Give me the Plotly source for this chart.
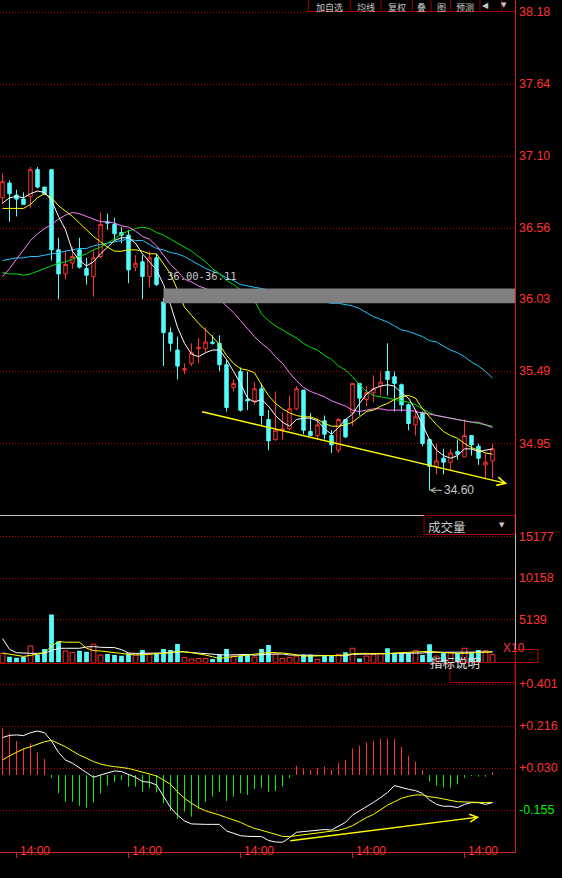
import plotly.graph_objects as go

# ------------------------------------------------------------------ data
idx = list(range(71))

opens = [36.79, 36.90, 36.81, 36.78, 36.80, 37.00, 36.87, 37.00, 36.40, 36.22,
         36.30, 36.40, 36.26, 36.20, 36.35, 36.61, 36.59, 36.53, 36.51, 36.27,
         36.31, 36.20, 36.34, 36.01, 35.78, 35.65, 35.50, 35.55, 35.66, 35.66,
         35.71, 35.70, 35.54, 35.37, 35.49, 35.28, 35.27, 35.36, 35.13, 34.98,
         35.05, 35.06, 35.21, 35.35, 35.04, 35.01, 35.12, 35.01, 34.90, 35.13,
         35.18, 35.40, 35.28, 35.33, 35.38, 35.49, 35.45, 35.39, 35.24, 35.09,
         35.18, 34.98, 34.78, 34.84, 34.81, 34.89, 34.85, 35.01, 34.93, 34.79,
         34.82]
highs = [36.97, 36.92, 36.85, 36.83, 37.02, 37.02, 36.87, 37.00, 36.49, 36.39,
         36.42, 36.49, 36.34, 36.40, 36.68, 36.67, 36.64, 36.57, 36.55, 36.36,
         36.36, 36.39, 36.37, 36.04, 35.82, 35.75, 35.55, 35.70, 35.74, 35.82,
         35.76, 35.76, 35.58, 35.43, 35.52, 35.49, 35.41, 35.40, 35.20, 35.34,
         35.18, 35.31, 35.38, 35.35, 35.18, 35.14, 35.16, 35.05, 35.14, 35.13,
         35.40, 35.40, 35.38, 35.46, 35.49, 35.70, 35.49, 35.40, 35.25, 35.20,
         35.19, 34.99, 34.95, 34.91, 34.91, 34.98, 35.13, 35.01, 34.95, 34.88,
         34.95]
lows = [36.74, 36.61, 36.65, 36.74, 36.71, 36.86, 36.81, 36.32, 36.03, 36.18,
        36.26, 36.26, 36.14, 36.05, 36.34, 36.55, 36.47, 36.45, 36.15, 36.24,
        36.03, 36.12, 36.13, 35.53, 35.64, 35.43, 35.47, 35.53, 35.55, 35.63,
        35.69, 35.49, 35.19, 35.34, 35.19, 35.20, 35.24, 35.09, 34.90, 34.97,
        34.98, 35.05, 35.20, 35.02, 35.01, 34.98, 34.98, 34.88, 34.88, 34.99,
        35.08, 35.16, 35.23, 35.26, 35.31, 35.31, 35.19, 35.19, 35.05, 35.01,
        34.93, 34.60, 34.72, 34.72, 34.75, 34.83, 34.85, 34.86, 34.79, 34.69,
        34.69]
closes = [36.91, 36.82, 36.78, 36.74, 37.00, 36.87, 36.82, 36.40, 36.22, 36.29,
          36.35, 36.27, 36.21, 36.34, 36.59, 36.60, 36.52, 36.51, 36.25, 36.30,
          36.20, 36.34, 36.14, 35.78, 35.70, 35.53, 35.51, 35.63, 35.67, 35.71,
          35.70, 35.54, 35.22, 35.40, 35.20, 35.27, 35.36, 35.16, 34.97, 35.05,
          35.06, 35.21, 35.36, 35.05, 35.01, 35.09, 35.02, 34.94, 35.13, 35.00,
          35.40, 35.29, 35.33, 35.36, 35.41, 35.43, 35.40, 35.24, 35.10, 35.15,
          34.95, 34.78, 34.82, 34.81, 34.88, 34.87, 35.01, 34.94, 34.84, 34.81,
          34.91]

ma5 = [36.75, 36.79, 36.80, 36.79, 36.82, 36.84, 36.83, 36.77, 36.65, 36.55,
       36.39, 36.32, 36.28, 36.31, 36.37, 36.42, 36.47, 36.49, 36.49, 36.45,
       36.37, 36.31, 36.25, 36.14, 35.99, 35.82, 35.70, 35.62, 35.60, 35.63,
       35.65, 35.65, 35.58, 35.49, 35.40, 35.29, 35.26, 35.28, 35.23, 35.16,
       35.11, 35.08, 35.13, 35.14, 35.14, 35.12, 35.06, 35.02, 35.07, 35.13,
       35.17, 35.25, 35.32, 35.36, 35.38, 35.39, 35.38, 35.33, 35.29, 35.20,
       35.09, 34.98, 34.90, 34.86, 34.84, 34.86, 34.91, 34.91, 34.89, 34.90,
       34.91]
ma10 = [36.71, 36.71, 36.71, 36.71, 36.74, 36.79, 36.82, 36.79, 36.73, 36.69,
        36.65, 36.60, 36.55, 36.50, 36.46, 36.42, 36.39, 36.39, 36.40, 36.40,
        36.39, 36.37, 36.37, 36.29, 36.22, 36.10, 35.97, 35.91, 35.85, 35.80,
        35.75, 35.69, 35.61, 35.55, 35.51, 35.50, 35.48, 35.39, 35.31, 35.25,
        35.21, 35.18, 35.16, 35.15, 35.15, 35.13, 35.10, 35.08, 35.08, 35.09,
        35.11, 35.15, 35.19, 35.20, 35.23, 35.25, 35.28, 35.30, 35.31, 35.29,
        35.21, 35.15, 35.09, 35.04, 35.01, 34.99, 34.95, 34.92, 34.90, 34.88,
        34.87]
ma20 = [36.20, 36.26, 36.33, 36.40, 36.47, 36.52, 36.56, 36.59, 36.63, 36.66,
        36.68, 36.67, 36.65, 36.63, 36.61, 36.61, 36.60, 36.58, 36.57, 36.54,
        36.50, 36.48, 36.43, 36.36, 36.29, 36.24, 36.18, 36.16, 36.13, 36.11,
        36.09, 36.03, 35.98, 35.93, 35.87, 35.81, 35.75, 35.70, 35.66, 35.60,
        35.55, 35.48, 35.42, 35.37, 35.34, 35.32, 35.30, 35.27, 35.25, 35.23,
        35.20, 35.19, 35.20, 35.21, 35.21, 35.20, 35.20, 35.20, 35.20, 35.19,
        35.18, 35.17, 35.16, 35.15, 35.14, 35.13, 35.12, 35.11, 35.11, 35.09,
        35.07]
ma30 = [36.23, 36.22, 36.22, 36.21, 36.22, 36.24, 36.26, 36.28, 36.30, 36.31,
        36.33, 36.35, 36.37, 36.40, 36.42, 36.45, 36.48, 36.52, 36.54, 36.56,
        36.57, 36.56, 36.53, 36.51, 36.48, 36.45, 36.42, 36.39, 36.35, 36.31,
        36.26, 36.22, 36.17, 36.14, 36.10, 36.06, 36.02, 35.92, 35.87, 35.83,
        35.80, 35.77, 35.74, 35.70, 35.67, 35.65, 35.61, 35.58, 35.53, 35.50,
        35.45, 35.39, 35.34, 35.31, 35.30, 35.29, 35.28, 35.27, 35.26, 35.24,
        35.21, 35.18, 35.16, 35.15, 35.14, 35.13, 35.12, 35.11, 35.10, 35.09,
        35.08]
ma60 = [36.32, 36.33, 36.34, 36.34, 36.35, 36.35, 36.36, 36.37, 36.38, 36.39,
        36.40, 36.41, 36.41, 36.43, 36.44, 36.45, 36.46, 36.47, 36.48, 36.47,
        36.47, 36.44, 36.41, 36.40, 36.38, 36.37, 36.35, 36.32, 36.29, 36.26,
        36.24, 36.22, 36.19, 36.17, 36.14, 36.13, 36.12, 36.11, 36.10, 36.08,
        36.07, 36.06, 36.05, 36.04, 36.03, 36.02, 36.01, 36.00, 36.00, 35.99,
        35.98, 35.96, 35.93, 35.90, 35.88, 35.86, 35.83, 35.80, 35.79, 35.77,
        35.75, 35.72, 35.71, 35.68, 35.65, 35.63, 35.60, 35.56, 35.53, 35.49,
        35.44]

volume = [1100, 694, 571, 694, 2000, 979, 1632, 5794, 2530, 1387,
          1224, 1428, 1306, 2203, 898, 1020, 898, 816, 1102, 1020,
          1510, 1020, 1102, 1632, 1510, 2244, 612, 408, 490, 490,
          408, 979, 1632, 775, 816, 979, 650, 1632, 2122, 979,
          490, 612, 775, 979, 979, 367, 775, 775, 979, 1224,
          1714, 490, 775, 979, 1102, 1714, 1102, 1102, 1102, 1428,
          898, 2203, 775, 1183, 1183, 1102, 1714, 1183, 1510, 1428,
          979]
vol_ma5 = [1142, 979, 816, 734, 857, 1020, 1183, 1958, 2530, 2448,
           2448, 2448, 1714, 1428, 1387, 1306, 1224, 1102, 979, 898,
           938, 979, 1061, 1102, 1183, 1306, 1306, 1183, 1061, 898,
           694, 490, 612, 694, 816, 898, 979, 1102, 1224, 1224,
           1142, 1061, 898, 775, 775, 775, 775, 816, 857, 898,
           1061, 1102, 1102, 1102, 1020, 1061, 1142, 1183, 1224, 1224,
           1224, 1346, 1265, 1183, 1142, 1102, 1102, 1142, 1224, 1306,
           1306]
vol_ma10 = [2897, 1591, 1183, 1102, 1102, 1102, 1142, 1428, 1714, 1714,
            1714, 1714, 1877, 1918, 1836, 1836, 1795, 1550, 1142, 1102,
            1102, 1102, 1102, 1142, 1224, 1306, 1265, 1183, 1102, 1020,
            979, 938, 898, 898, 898, 979, 870, 979, 1020, 1020,
            1020, 898, 898, 816, 816, 816, 816, 816, 816, 816,
            979, 979, 1020, 1061, 1061, 1061, 1102, 1102, 1102, 1102,
            1142, 1224, 1224, 1224, 1183, 1183, 1224, 1224, 1224, 1265,
            1265]

dif = [0.165, 0.175, 0.177, 0.174, 0.187, 0.194, 0.187, 0.150, 0.100, 0.066,
       0.052, 0.032, 0.012, -0.010, 0.000, 0.010, 0.018, 0.015, 0.003, -0.010,
       -0.029, -0.032, -0.044, -0.096, -0.144, -0.177, -0.203, -0.216, -0.218, -0.218,
       -0.218, -0.218, -0.247, -0.258, -0.268, -0.271, -0.271, -0.272, -0.289, -0.296,
       -0.297, -0.277, -0.253, -0.250, -0.250, -0.246, -0.241, -0.243, -0.227, -0.209,
       -0.177, -0.159, -0.140, -0.121, -0.100, -0.077, -0.047, -0.056, -0.063, -0.069,
       -0.081, -0.110, -0.130, -0.138, -0.138, -0.144, -0.130, -0.122, -0.122, -0.130,
       -0.122]
dea = [0.066, 0.085, 0.100, 0.115, 0.125, 0.135, 0.147, 0.153, 0.140, 0.125,
       0.106, 0.088, 0.074, 0.059, 0.049, 0.041, 0.037, 0.034, 0.029, 0.021,
       0.012, 0.003, -0.004, -0.022, -0.041, -0.074, -0.103, -0.125, -0.144, -0.158,
       -0.166, -0.177, -0.188, -0.199, -0.209, -0.224, -0.236, -0.244, -0.253, -0.262,
       -0.271, -0.272, -0.268, -0.264, -0.259, -0.256, -0.253, -0.250, -0.244, -0.236,
       -0.224, -0.206, -0.188, -0.174, -0.153, -0.133, -0.118, -0.103, -0.094, -0.088,
       -0.088, -0.096, -0.100, -0.106, -0.112, -0.118, -0.119, -0.121, -0.121, -0.122,
       -0.121]
macd_hist = [0.206, 0.184, 0.150, 0.118, 0.140, 0.100, 0.071, -0.012, -0.081, -0.118,
             -0.118, -0.136, -0.144, -0.121, -0.081, -0.047, -0.030, -0.022, -0.052, -0.052,
             -0.074, -0.059, -0.077, -0.125, -0.158, -0.194, -0.162, -0.184, -0.150, -0.118,
             -0.096, -0.074, -0.115, -0.096, -0.081, -0.088, -0.062, -0.056, -0.074, -0.071,
             -0.052, -0.012, 0.041, 0.029, 0.022, 0.032, 0.037, 0.022, 0.054, 0.066,
             0.118, 0.130, 0.143, 0.150, 0.159, 0.159, 0.159, 0.125, 0.085, 0.059,
             0.022, -0.029, -0.047, -0.056, -0.056, -0.041, -0.012, -0.004, -0.007, -0.007,
             0.012]

price_ticks = [38.18, 37.64, 37.10, 36.56, 36.03, 35.49, 34.95]
vol_ticks = [15177, 10158, 5139]
macd_ticks = [0.401, 0.216, 0.030, -0.155]
time_tick_idx = [2, 18, 34, 50, 66]
time_tick_labels = ["14:00", "14:00", "14:00", "14:00", "14:00"]

zone_low, zone_high, zone_start = 36.00, 36.11, 23
low_mark_idx, low_mark_price = 61, 34.60
trend_price_start = (28.3, 35.19)
trend_price_end = (72.1, 34.65)
trend_macd_start = (40.9, -0.2915)
trend_macd_end = (68.1, -0.1855)

toolbar_labels = ["加自选", "均线", "复权", "叠", "图", "预测"]

# ------------------------------------------------------------------ style / layout
W, H = 562, 878
RED = "#ff3232"
CYAN = "#54fcfc"
GREEN = "#00f000"
GRID = "#b00000"
BORDER = "#a00000"
GREY = "#c8c8c8"
NUM_FONT = "Liberation Sans, Arial, sans-serif"
CJK_FONT = "Noto Sans CJK SC, sans-serif"


def fx(px):
    return px / W


def fy(py):
    return 1 - py / H


X_RANGE = [-2.5 / 7, 512.5 / 7]
X_DOM = [0, 515 / W]

fig = go.Figure()

# candles
fig.add_trace(go.Candlestick(
    x=idx, open=opens, high=highs, low=lows, close=closes,
    increasing=dict(line=dict(color=RED, width=1), fillcolor="rgba(0,0,0,0)"),
    decreasing=dict(line=dict(color=CYAN, width=1), fillcolor=CYAN),
    whiskerwidth=0, xaxis="x", yaxis="y", hoverinfo="skip", showlegend=False))

for vals, col in [(ma60, "#1ec8ff"), (ma30, "#00e000"), (ma20, "#ff80ff"),
                  (ma10, "#ffff00"), (ma5, "#ffffff")]:
    fig.add_trace(go.Scatter(x=idx, y=vals, mode="lines", line=dict(color=col, width=1),
                             xaxis="x", yaxis="y", hoverinfo="skip", showlegend=False))

# volume
up = [c >= o for o, c in zip(opens, closes)]
fig.add_trace(go.Bar(
    x=[i for i in idx if up[i]], y=[volume[i] for i in idx if up[i]], width=0.68,
    marker=dict(color="rgba(0,0,0,0)", line=dict(color=RED, width=1)),
    xaxis="x2", yaxis="y2", hoverinfo="skip", showlegend=False))
fig.add_trace(go.Bar(
    x=[i for i in idx if not up[i]], y=[volume[i] for i in idx if not up[i]], width=0.68,
    marker=dict(color=CYAN, line=dict(width=0)),
    xaxis="x2", yaxis="y2", hoverinfo="skip", showlegend=False))
fig.add_trace(go.Scatter(x=idx, y=vol_ma10, mode="lines", line=dict(color="#ffffff", width=1),
                         xaxis="x2", yaxis="y2", hoverinfo="skip", showlegend=False))
fig.add_trace(go.Scatter(x=idx, y=vol_ma5, mode="lines", line=dict(color="#ffff00", width=1),
                         xaxis="x2", yaxis="y2", hoverinfo="skip", showlegend=False))


# MACD histogram as thin sticks
def sticks(sign):
    xs, ys = [], []
    for i, v in zip(idx, macd_hist):
        if (v > 0) == sign:
            xs += [i, i, None]
            ys += [0, v, None]
    return xs, ys


for sign, col in [(True, RED), (False, GREEN)]:
    xs, ys = sticks(sign)
    fig.add_trace(go.Scatter(x=xs, y=ys, mode="lines", line=dict(color=col, width=1),
                             xaxis="x3", yaxis="y3", hoverinfo="skip", showlegend=False))
fig.add_trace(go.Scatter(x=idx, y=dif, mode="lines", line=dict(color="#ffffff", width=1),
                         xaxis="x3", yaxis="y3", hoverinfo="skip", showlegend=False))
fig.add_trace(go.Scatter(x=idx, y=dea, mode="lines", line=dict(color="#ffff00", width=1),
                         xaxis="x3", yaxis="y3", hoverinfo="skip", showlegend=False))

# ------------------------------------------------------------------ axes
P_TOP, P_BOT = 38.27, 38.27 - 515 * 0.007485
common_x = dict(range=X_RANGE, domain=X_DOM, showgrid=False, zeroline=False,
                showticklabels=False, fixedrange=True)
grid_y = dict(side="right", showgrid=True, gridcolor=GRID, griddash="1px,2px", gridwidth=1,
              zeroline=False, showticklabels=False, ticks="", showline=True, linewidth=1,
              fixedrange=True)

fig.update_layout(
    width=W, height=H, margin=dict(l=0, r=0, t=0, b=0), autosize=False,
    paper_bgcolor="black", plot_bgcolor="black", showlegend=False, barmode="overlay",
    xaxis=dict(**common_x, anchor="y", rangeslider=dict(visible=False), showline=True,
               linecolor="#c0c0c0", linewidth=1, ticks=""),
    xaxis2=dict(**common_x, anchor="y2", showline=True, linecolor="#c00000", linewidth=1, ticks=""),
    xaxis3=dict(**common_x, anchor="y3", showline=True, linecolor="#d02020", linewidth=1,
                ticks="outside", tickvals=time_tick_idx, ticklen=5, tickcolor="#d02020", tickwidth=1),
    yaxis=dict(**grid_y, domain=[fy(515), 1], range=[P_BOT, P_TOP], anchor="x",
               tickvals=price_ticks, linecolor="#d02020"),
    yaxis2=dict(**grid_y, domain=[fy(662.5), fy(515)], range=[0, 17789], anchor="x2",
                tickvals=vol_ticks, linecolor="#c0c0c0"),
    yaxis3=dict(**grid_y, domain=[fy(852), fy(662.5)], range=[-0.3401, 0.4969], anchor="x3",
                tickvals=macd_ticks, linecolor="#d02020"),
)

ann = []
shapes = []

# right-side axis labels
for v in price_ticks:
    ann.append(dict(x=fx(517), xref="paper", y=v, yref="y", text=f"{v:.2f}", xanchor="left",
                    showarrow=False, font=dict(color=RED, size=12.5, family=NUM_FONT)))
for v in vol_ticks:
    ann.append(dict(x=fx(517), xref="paper", y=v, yref="y2", text=str(v), xanchor="left",
                    showarrow=False, font=dict(color=RED, size=12.5, family=NUM_FONT)))
for v in macd_ticks:
    ann.append(dict(x=fx(517), xref="paper", y=v, yref="y3", text=f"{v:+.3f}", xanchor="left",
                    showarrow=False,
                    font=dict(color=RED if v > 0 else GREEN, size=12.5, family=NUM_FONT)))
# time labels
for t, lab in zip(time_tick_idx, time_tick_labels):
    ann.append(dict(x=t, xref="x3", y=fy(860), yref="paper", text=lab, xanchor="left",
                    xshift=1, showarrow=False, font=dict(color=RED, size=12, family=NUM_FONT)))

# price zone
shapes.append(dict(type="rect", xref="x", yref="y", x0=zone_start, x1=X_RANGE[1],
                   y0=zone_low, y1=zone_high, fillcolor="#808080", line=dict(width=0), layer="above"))
ann.append(dict(x=zone_start, xref="x", y=zone_high, yref="y", yshift=12.5, xshift=1,
                text=f"{zone_low:.2f}-{zone_high:.2f}", xanchor="left", yanchor="middle",
                showarrow=False, font=dict(color="#c8c8c8", size=10.5, family="DejaVu Sans Mono")))

# low marker
ann.append(dict(x=low_mark_idx, xref="x", y=low_mark_price, yref="y", text=f"{low_mark_price:.2f}",
                showarrow=True, ax=29, ay=0, arrowhead=5, arrowsize=1, arrowwidth=1,
                arrowcolor="#c0c0c0", standoff=0, font=dict(color="#c8c8c8", size=12, family=NUM_FONT)))

# trend arrows
ann.append(dict(x=trend_price_end[0], y=trend_price_end[1], xref="x", yref="y",
                ax=trend_price_start[0], ay=trend_price_start[1], axref="x", ayref="y",
                text="", showarrow=True, arrowhead=5, arrowsize=1.1, arrowwidth=1.5,
                arrowcolor="#ffff00", standoff=0))
ann.append(dict(x=trend_macd_end[0], y=trend_macd_end[1], xref="x3", yref="y3",
                ax=trend_macd_start[0], ay=trend_macd_start[1], axref="x3", ayref="y3",
                text="", showarrow=True, arrowhead=5, arrowsize=1.1, arrowwidth=1.4,
                arrowcolor="#ffff00", standoff=0))

# toolbar (top right)
shapes.append(dict(type="rect", xref="paper", yref="paper", x0=fx(308), x1=fx(515),
                   y0=fy(13), y1=fy(-2), fillcolor="black", line=dict(width=0), layer="above"))
shapes.append(dict(type="line", xref="paper", yref="paper", x0=fx(308), x1=fx(515),
                   y0=fy(11.5), y1=fy(11.5), line=dict(color=BORDER, width=1), layer="above"))
for sx in [308.3, 350.7, 381, 412.3, 431, 450.7, 480, 501.7]:
    shapes.append(dict(type="line", xref="paper", yref="paper", x0=fx(sx), x1=fx(sx),
                       y0=fy(11.5), y1=fy(-1), line=dict(color=BORDER, width=1), layer="above"))
for lab, cx in zip(toolbar_labels, [329.5, 366, 397, 421.7, 441, 465.3]):
    ann.append(dict(x=fx(cx), xref="paper", y=1, yref="paper", text=lab, showarrow=False,
                    xanchor="center", yanchor="top", borderpad=0,
                    font=dict(color=GREY, size=9, family=CJK_FONT)))
ann.append(dict(x=fx(490), xref="paper", y=1, yref="paper", text="◀", showarrow=False,
                yanchor="top", borderpad=0, font=dict(color=GREY, size=8, family="DejaVu Sans")))
ann.append(dict(x=fx(508), xref="paper", y=1, yref="paper", text="▼", showarrow=False,
                yanchor="top", borderpad=0, font=dict(color=GREY, size=7, family="DejaVu Sans")))

# volume label box
shapes.append(dict(type="rect", xref="paper", yref="paper", x0=fx(424), x1=fx(515),
                   y0=fy(534.5), y1=fy(515.5), fillcolor="black",
                   line=dict(color=BORDER, width=1), layer="above"))
ann.append(dict(x=fx(468), xref="paper", y=fy(526), yref="paper", text="成交量", showarrow=False,
                font=dict(color=GREY, size=12.5, family=CJK_FONT)))
ann.append(dict(x=fx(507), xref="paper", y=fy(524.5), yref="paper", text="▼", showarrow=False,
                font=dict(color=GREY, size=7, family="DejaVu Sans")))

# X10 box
shapes.append(dict(type="rect", xref="paper", yref="paper", x0=fx(515.5), x1=fx(538),
                   y0=fy(662.5), y1=fy(649.5), fillcolor="black",
                   line=dict(color="#c00000", width=1), layer="above"))
ann.append(dict(x=fx(527), xref="paper", y=fy(656.5), yref="paper", text="X10", showarrow=False,
                font=dict(color=RED, size=12, family=NUM_FONT)))

# indicator box
shapes.append(dict(type="rect", xref="paper", yref="paper", x0=fx(450), x1=fx(515),
                   y0=fy(682.5), y1=fy(662.5), fillcolor="black",
                   line=dict(color=BORDER, width=1), layer="above"))
ann.append(dict(x=fx(482), xref="paper", y=fy(674), yref="paper", text="指标说明", showarrow=False,
                font=dict(color="#e0e0e0", size=12.5, family=CJK_FONT)))

fig.update_layout(annotations=ann, shapes=shapes)
fig.write_html("out.html",
               config={"displayModeBar": False, "staticPlot": True},
               post_script="document.body.style.margin='0px';"
                           "document.body.style.background='black';"
                           "document.body.style.overflow='hidden';")
